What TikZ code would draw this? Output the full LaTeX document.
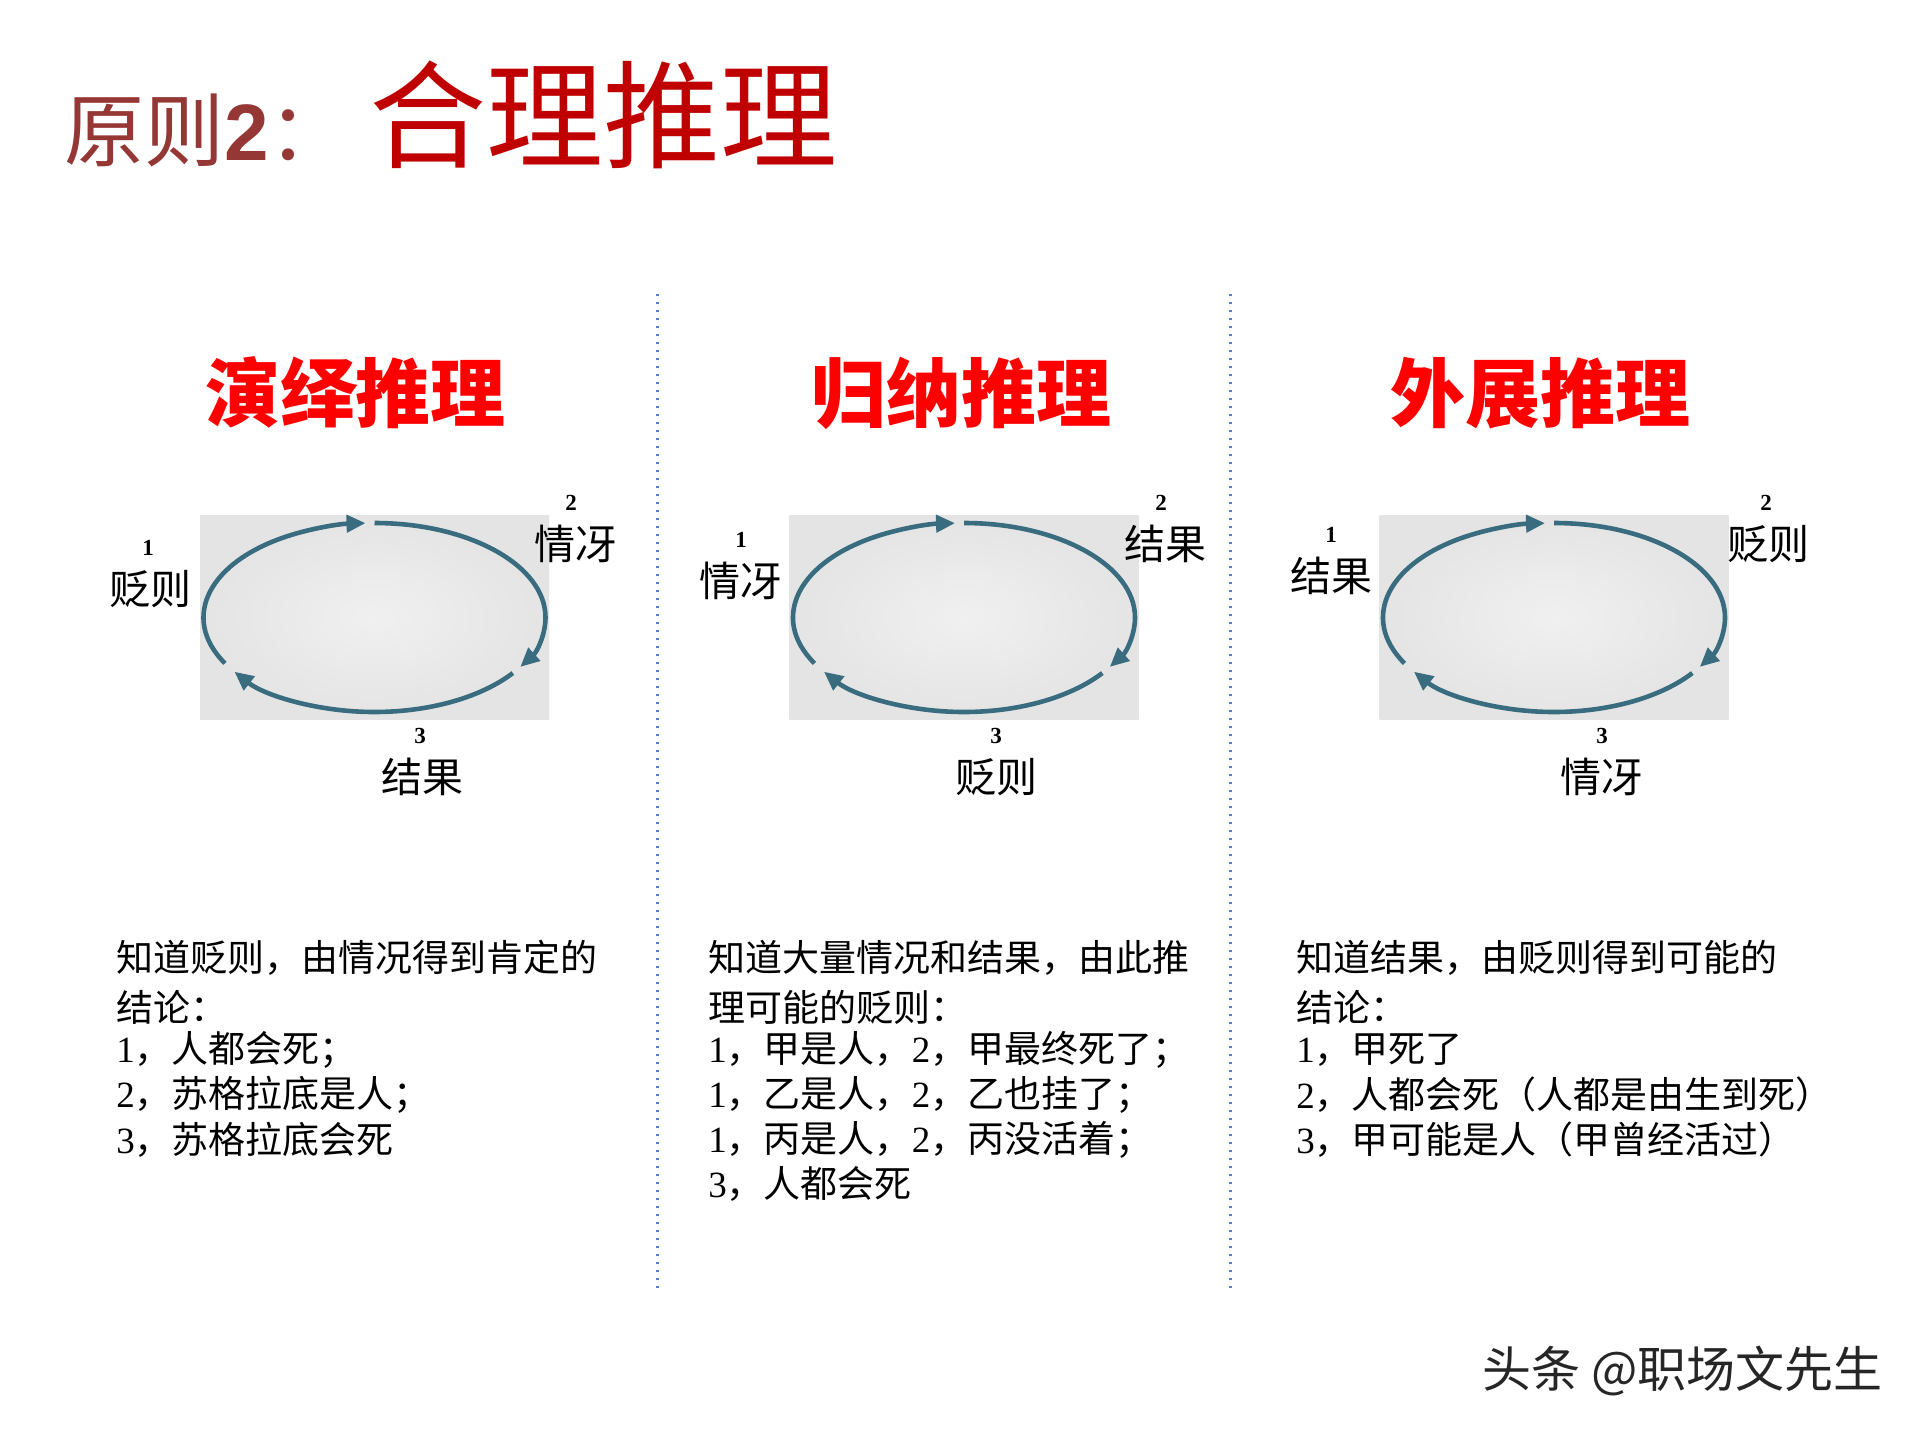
\documentclass[tikz,border=0pt]{standalone}
\usepackage{fontspec}
\setmainfont{Liberation Serif}
\newfontfamily\cjk{Noto Sans CJK SC}
\newfontfamily\sansb{Liberation Sans}
\usetikzlibrary{arrows.meta}
\definecolor{titlebrown}{RGB}{149,55,53}
\definecolor{titlered}{RGB}{192,0,0}
\definecolor{headred}{RGB}{255,0,0}
\definecolor{arrcol}{RGB}{58,108,128}
\definecolor{dotblue}{RGB}{91,130,200}
\definecolor{bginner}{RGB}{240,240,240}
\definecolor{bgouter}{RGB}{228,228,228}
\newcommand\dg[1]{{\rmfamily #1}}
\tikzset{
  arrline/.style={draw=arrcol, line width=2.3pt, -{Triangle[length=9.5pt,width=8.5pt]}},
  heading/.style={inner sep=0pt, text=headred, font=\cjk\bfseries\fontsize{37.5pt}{40pt}\selectfont},
  lbl/.style={inner sep=0pt, font=\cjk\fontsize{20.5pt}{24pt}\selectfont},
  numlbl/.style={inner sep=0pt, font=\bfseries\fontsize{11.5pt}{13pt}\selectfont},
  bodyline/.style={inner sep=0pt, anchor=west, font=\cjk\fontsize{18.5pt}{22pt}\selectfont},
  divider/.style={draw=dotblue, line width=1.2pt, dash pattern=on 1pt off 3pt},
  loopring/.pic={
    \shade[inner color=bginner, outer color=bgouter] (-174.5,-102) rectangle (174.5,102);
    \draw[arrline] (151:171 and 94.5) arc[start angle=151, end angle=267, x radius=171, y radius=94.5];
    \draw[arrline] (270:171 and 94.5) arc[start angle=270, end angle=391.5, x radius=171, y radius=94.5];
    \draw[arrline] (36:171 and 94.5) arc[start angle=36, end angle=145, x radius=171, y radius=94.5];
  }
}
\begin{document}
\begin{tikzpicture}[x=0.5pt, y=-0.5pt]
\useasboundingbox[fill=white] (0,0) rectangle (1920,1440);

% title
\node[anchor=base west, inner sep=0pt, text=titlebrown, font=\cjk\fontsize{40pt}{48pt}\selectfont] (tA) at (64,160) {原则{\sansb\bfseries 2}：};
\node[anchor=base west, inner sep=0pt, text=titlered, font=\cjk\fontsize{58.5pt}{62pt}\selectfont] (tB) at (369,159) {合理推理};

% dividers
\coordinate (d1a) at (657.5,294); \coordinate (d1b) at (657.5,1288);
\coordinate (d2a) at (1230.5,294); \coordinate (d2b) at (1230.5,1288);
\draw[divider] (d1a) -- (d1b);
\draw[divider] (d2a) -- (d2b);

% headings
\node[heading] (h1) at (355,393) {演绎推理};
\node[heading] (h2) at (961,393) {归纳推理};
\node[heading] (h3) at (1540,393) {外展推理};

% cycles
\pic (c1) at (374.5,617.5) {loopring};
\pic (c2) at (964,617.5) {loopring};
\pic (c3) at (1554,617.5) {loopring};

% column 1 labels
\node[numlbl] (n11) at (148,548) {1};
\node[lbl] (l11) at (150,589) {贬则};
\node[numlbl] (n12) at (571,503) {2};
\node[lbl] (l12) at (575,544) {情冴};
\node[numlbl] (n13) at (420,736) {3};
\node[lbl] (l13) at (422,777) {结果};

% column 2 labels
\node[numlbl] (n21) at (741,540) {1};
\node[lbl] (l21) at (740,581) {情冴};
\node[numlbl] (n22) at (1161,503) {2};
\node[lbl] (l22) at (1165,544) {结果};
\node[numlbl] (n23) at (996,736) {3};
\node[lbl] (l23) at (996,777) {贬则};

% column 3 labels
\node[numlbl] (n31) at (1331,535) {1};
\node[lbl] (l31) at (1331,576) {结果};
\node[numlbl] (n32) at (1766,503) {2};
\node[lbl] (l32) at (1768,544) {贬则};
\node[numlbl] (n33) at (1602,736) {3};
\node[lbl] (l33) at (1601,777) {情冴};

% body column 1
\node[bodyline] (a1) at (116,958) {知道贬则，由情况得到肯定的};
\node[bodyline] (a2) at (116,1007) {结论：};
\node[bodyline] (a3) at (116,1050) {\dg{1}，人都会死；};
\node[bodyline] (a4) at (116,1095) {\dg{2}，苏格拉底是人；};
\node[bodyline] (a5) at (116,1140) {\dg{3}，苏格拉底会死};

% body column 2
\node[bodyline] (b1) at (708,958) {知道大量情况和结果，由此推};
\node[bodyline] (b2) at (708,1007) {理可能的贬则：};
\node[bodyline] (b3) at (708,1050) {\dg{1}，甲是人，\dg{2}，甲最终死了；};
\node[bodyline] (b4) at (708,1095) {\dg{1}，乙是人，\dg{2}，乙也挂了；};
\node[bodyline] (b5) at (708,1140) {\dg{1}，丙是人，\dg{2}，丙没活着；};
\node[bodyline] (b6) at (708,1184) {\dg{3}，人都会死};

% body column 3
\node[bodyline] (e1) at (1296,958) {知道结果，由贬则得到可能的};
\node[bodyline] (e2) at (1296,1007) {结论：};
\node[bodyline] (e3) at (1296,1050) {\dg{1}，甲死了};
\node[bodyline] (e4) at (1296,1095) {\dg{2}，人都会死（人都是由生到死）};
\node[bodyline] (e5) at (1296,1140) {\dg{3}，甲可能是人（甲曾经活过）};

% watermark
\node[anchor=west, inner sep=0pt, text=black!85, font=\cjk\fontsize{24.5pt}{28pt}\selectfont] (wm) at (1482,1371) {头条 @职场文先生};
\end{tikzpicture}
\end{document}
